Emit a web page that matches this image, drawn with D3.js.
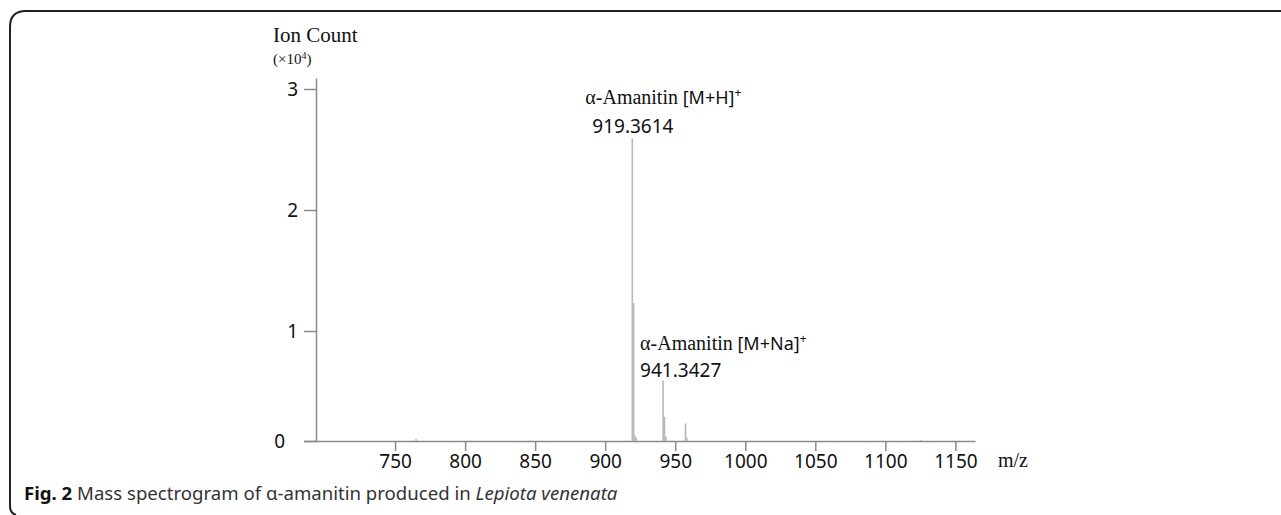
<!DOCTYPE html>
<html>
<head>
<meta charset="utf-8">
<script src="https://cdn.jsdelivr.net/npm/d3@7"></script>
<style>
  body { margin: 0; background: #fff; }
</style>
</head>
<body>
<div id="chart"></div>
<script>
// peaks (m/z, ion count x10^4)
const mzValues = [765.0, 919.36, 920.36, 921.37, 922.1, 941.34, 942.35, 943.35, 957.33, 958.34, 1125.0];
const intensities = [0.02, 2.59, 1.23, 0.05, 0.03, 0.55, 0.22, 0.04, 0.16, 0.03, 0.01];

const xTicks = [750, 800, 850, 900, 950, 1000, 1050, 1100, 1150];
const yTicks = [0, 1, 2, 3];

const annotations = [
  { mz: 919.36, name: "α-Amanitin", ion: " [M+H]", value: "919.3614" },
  { mz: 941.34, name: "α-Amanitin", ion: " [M+Na]", value: "941.3427" }
];

const peaks = mzValues.map((m, i) => ({ mz: m, count: intensities[i] }));

const width = 1281, height = 515;

const svg = d3.select("#chart")
  .append("svg")
  .attr("width", width)
  .attr("height", height);

// frame, open at the right and bottom like the journal figure box
svg.append("path")
  .attr("d", "M1281,11 H26 Q10,11 10,27 V506 Q10,513 16,515")
  .attr("fill", "none")
  .attr("stroke", "#222")
  .attr("stroke-width", 2);

const x = d3.scaleLinear()
  .domain([685, 1164])
  .range([304, 975]);

// the printed axis is not evenly spaced, so follow its tick positions
const y = d3.scaleLinear()
  .domain([0, 1, 2, 3, 3.09])
  .range([441, 331, 210, 89, 78]);

const axisColor = "#8a8a8a";

// x axis
const gx = svg.append("g")
  .attr("transform", `translate(0,${y(0)})`)
  .call(d3.axisBottom(x).tickValues(xTicks).tickSize(10).tickSizeOuter(0).tickPadding(4).tickFormat(d3.format("d")));
gx.select(".domain").attr("stroke", axisColor).attr("stroke-width", 1.5);
gx.selectAll(".tick line").attr("stroke", axisColor).attr("stroke-width", 1.5);
gx.selectAll(".tick text")
  .attr("font-family", "Noto Sans")
  .attr("font-size", 19)
  .attr("fill", "#111");

// y axis
const gy = svg.append("g")
  .attr("transform", "translate(316,0)")
  .call(d3.axisLeft(y).tickValues(yTicks).tickSize(12).tickSizeOuter(0).tickPadding(6).tickFormat(d3.format("d")));
gy.select(".domain").attr("stroke", axisColor).attr("stroke-width", 1.5);
gy.selectAll(".tick line").attr("stroke", axisColor).attr("stroke-width", 1.5);
gy.selectAll(".tick text")
  .attr("font-family", "Noto Sans")
  .attr("font-size", 19)
  .attr("fill", "#111")
  .attr("dx", d => d === 0 ? -13 : 0);

// spectrum sticks
svg.selectAll(".peak")
  .data(peaks)
  .join("line")
  .attr("class", "peak")
  .attr("x1", d => x(d.mz))
  .attr("x2", d => x(d.mz))
  .attr("y1", y(0))
  .attr("y2", d => y(d.count))
  .attr("stroke", "#b8b8b8")
  .attr("stroke-width", 1.6);

// axis titles
svg.append("text")
  .attr("x", 273).attr("y", 42)
  .attr("font-family", "Liberation Serif")
  .attr("font-size", 21)
  .attr("fill", "#111")
  .text("Ion Count");

const unit = svg.append("text")
  .attr("x", 273).attr("y", 64)
  .attr("font-family", "Liberation Serif")
  .attr("font-size", 15)
  .attr("fill", "#111");
unit.append("tspan").text("(×10");
unit.append("tspan").attr("font-size", 10).attr("dy", -5).text("4");
unit.append("tspan").attr("dy", 5).text(")");

svg.append("text")
  .attr("x", 998).attr("y", 467)
  .attr("font-family", "Liberation Serif")
  .attr("font-size", 20)
  .attr("fill", "#111")
  .text("m/z");

// peak labels
const labelOffsets = [{ dx: -47, y1: 104, dx2: -40, y2: 133 }, { dx: -23, y1: 350, dx2: -23, y2: 377 }];
annotations.forEach((a, i) => {
  const o = labelOffsets[i];
  const t = svg.append("text")
    .attr("x", x(a.mz) + o.dx)
    .attr("y", o.y1)
    .attr("fill", "#111");
  t.append("tspan").attr("font-family", "Liberation Serif").attr("font-size", 20).text(a.name);
  t.append("tspan").attr("font-family", "Noto Sans").attr("font-size", 18).text(a.ion);
  t.append("tspan").attr("font-family", "Noto Sans").attr("font-size", 12).attr("dy", -7).text("+");

  svg.append("text")
    .attr("x", x(a.mz) + o.dx2)
    .attr("y", o.y2)
    .attr("font-family", "Noto Sans")
    .attr("font-size", 19)
    .attr("fill", "#111")
    .text(a.value);
});

// caption
const cap = svg.append("text")
  .attr("x", 24).attr("y", 500)
  .attr("font-family", "Noto Sans")
  .attr("font-size", 18.6)
  .attr("fill", "#333");
cap.append("tspan").attr("font-weight", "bold").attr("fill", "#111").text("Fig. 2");
cap.append("tspan").text(" Mass spectrogram of α-amanitin produced in ");
cap.append("tspan").attr("font-style", "italic").text("Lepiota venenata");
</script>
</body>
</html>
